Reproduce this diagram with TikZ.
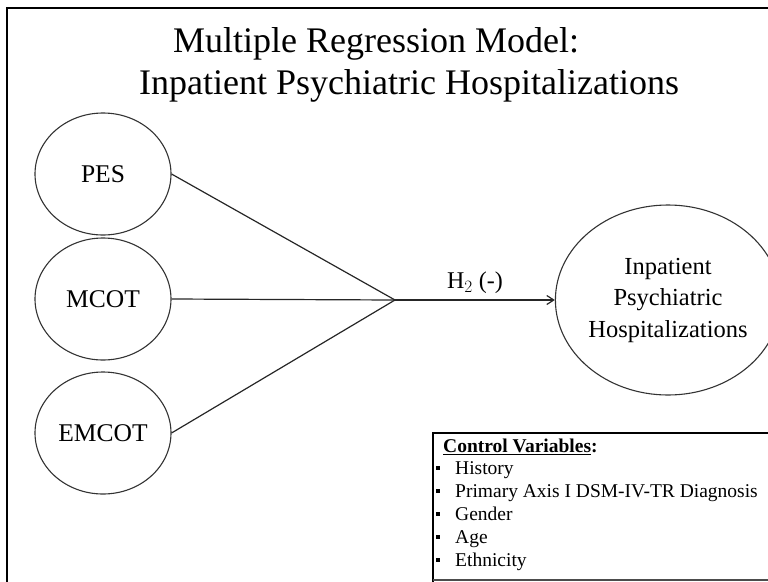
\documentclass[tikz,border=0pt]{standalone}
\usepackage{fontspec}
\setmainfont{Liberation Serif}
\usetikzlibrary{shapes.geometric,arrows.meta}
\begin{document}
\begin{tikzpicture}[x=1pt,y=-1pt,
  varnode/.style={draw=black!80,line width=1.1pt,ellipse,minimum width=136pt,minimum height=122pt,inner sep=0pt,font=\fontsize{25.5}{30}\selectfont},
  link/.style={draw=black!85,line width=1.2pt},
  titletext/.style={font=\fontsize{36}{42}\selectfont,anchor=base},
  ctrl/.style={font=\fontsize{19.5}{23}\selectfont,anchor=base west,inner sep=0pt},
  bulletsq/.style={fill=black,minimum size=4pt,inner sep=0pt}]
\useasboundingbox (0,0) rectangle (768,581);
% outer frame
\draw[line width=2pt] (7,600) -- (7,8) -- (790,8);
% title
\node[titletext] (t1) at (376,52) {Multiple Regression Model:};
\node[titletext] (t2) at (409,94) {Inpatient Psychiatric Hospitalizations};
% predictor nodes
\node[varnode] (pes) at (103,174) {PES};
\node[varnode] (mcot) at (103,299) {MCOT};
\node[varnode] (emcot) at (103,433) {EMCOT};
% outcome
\node[draw=black!80,line width=1.1pt,ellipse,minimum width=187pt,minimum height=190pt,inner sep=0pt,
  align=center,font=\fontsize{24.5}{31.5}\selectfont] (out) at (668,300) {Inpatient\\Psychiatric\\Hospitalizations};
% connectors
\coordinate (c) at (395,300);
\draw[link] (pes.east) -- (c);
\draw[link] (mcot.east) -- (c);
\draw[link] (emcot.east) -- (c);
\draw[link,-{Straight Barb[length=7pt,width=9pt]}] (c) -- (out.west)
  node[midway,above=2pt,font=\fontsize{24}{28}\selectfont] (h2) {H$_2$ (-)};
% control variables box
\draw[line width=1.3pt] (433,600) -- (433,433) -- (790,433);
\draw[line width=1.3pt,black!70] (433,580) -- (790,580);
\node[ctrl] (cv) at (443,452) {\textbf{\underline{Control Variables}:}};
\node[ctrl] (i1) at (455,474) {History};
\node[ctrl] (i2) at (455,497) {Primary Axis I DSM-IV-TR Diagnosis};
\node[ctrl] (i3) at (455,520) {Gender};
\node[ctrl] (i4) at (455,543) {Age};
\node[ctrl] (i5) at (455,566) {Ethnicity};
\node[bulletsq] (b1) at (438,468) {};
\node[bulletsq] (b2) at (438,491) {};
\node[bulletsq] (b3) at (438,514) {};
\node[bulletsq] (b4) at (438,537) {};
\node[bulletsq] (b5) at (438,560) {};
\end{tikzpicture}
\end{document}
